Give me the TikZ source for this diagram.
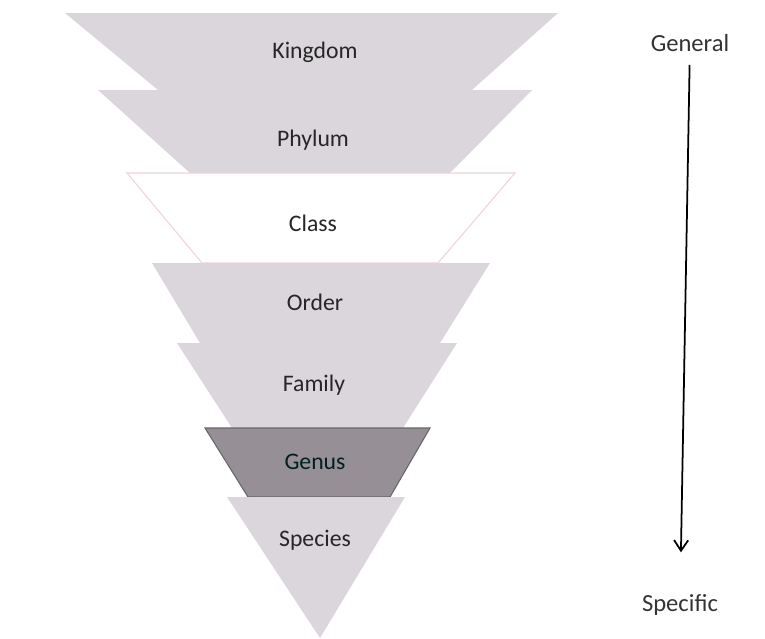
\documentclass[tikz,border=0pt]{standalone}
\usepackage{fontspec}
\setmainfont{Carlito}
\usetikzlibrary{arrows.meta}

\definecolor{levelgray}{RGB}{218,214,220}
\definecolor{genusgray}{RGB}{150,144,150}
\definecolor{classedge}{RGB}{240,210,214}

\tikzset{
    lvl/.style={fill=levelgray},
    lbl/.style={text=black!85, font=\fontsize{13.5}{16}\selectfont},
    side/.style={text=black!80, font=\fontsize{14}{17}\selectfont}
}

\begin{document}
\begin{tikzpicture}[x=0.02cm, y=-0.02cm]
        \useasboundingbox (0,0) rectangle (765,639);

        % levels, top to bottom
        \fill[lvl] (65,13) -- (558,13) -- (472,90) -- (158,90) -- cycle;
        \fill[lvl] (98,90) -- (532,90) -- (450,173) -- (190,173) -- cycle;
        \draw[fill=white,draw=classedge,line width=0.6pt] (127,173) -- (515,173) -- (438,263) -- (202,263) -- cycle;
        \fill[lvl] (152,263) -- (490,263) -- (440,343) -- (200,343) -- cycle;
        \fill[lvl] (177,343) -- (457,343) -- (403,428) -- (232,428) -- cycle;
        \draw[fill=genusgray,draw=black!60,line width=0.6pt] (205,428) -- (430,428) -- (390,497) -- (248,497) -- cycle;
        \fill[lvl] (227,497) -- (405,497) -- (320,638) -- cycle;

        \node[lbl] (kingdom) at (315,52) {Kingdom};
        \node[lbl] (phylum) at (313,140) {Phylum};
        \node[lbl] (class) at (313,223) {Class};
        \node[lbl] (order) at (315,302) {Order};
        \node[lbl] (family) at (314,385) {Family};
        \node[lbl,text=black!75!teal] (genus) at (315,462) {Genus};
        \node[lbl] (species) at (315,540) {Species};

        % general -> specific
        \node[side] (general) at (690,43) {General};
        \node[side] (specific) at (680,605) {Specific};
        \draw[-{Straight Barb[length=6pt,width=8pt]},line width=1pt,shorten <=4pt,shorten >=0.72cm] (general) -- (specific);

    \end{tikzpicture}
\end{document}
